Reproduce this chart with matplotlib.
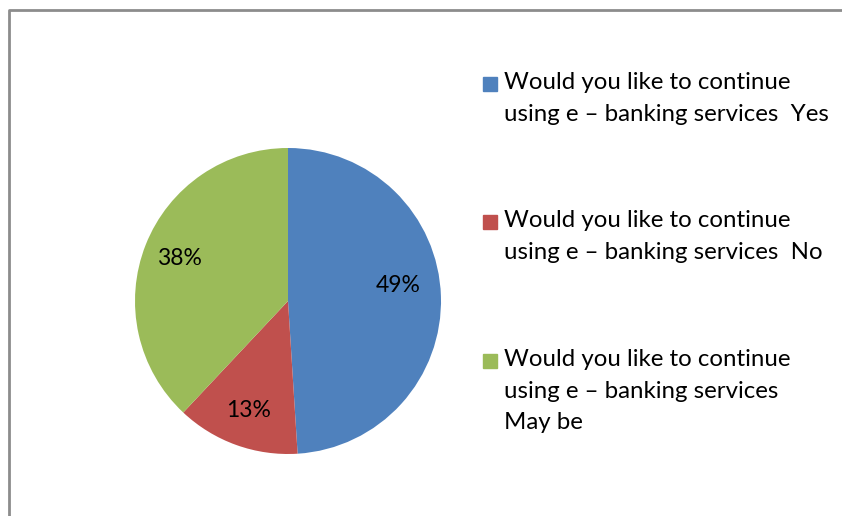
import matplotlib.pyplot as plt
from matplotlib.patches import Rectangle

# data
labels = ['Would you like to continue\nusing e \u2013 banking services  Yes',
          'Would you like to continue\nusing e \u2013 banking services  No',
          'Would you like to continue\nusing e \u2013 banking services\nMay be']
values = [49, 13, 38]
colors = ['#4F81BD', '#C0504D', '#9BBB59']

plt.rcParams['font.family'] = ['Lato', 'DejaVu Sans']

W, H = 842, 516
fig = plt.figure(figsize=(8.42, 5.16), dpi=100)
ax = fig.add_axes([0, 0, 1, 1])

# frame (only top and left are visible)
ax.plot([9, 9, W], [0, H - 10, H - 10], color='#8c8c8c', lw=2, solid_capstyle='butt')

wedges, texts, autotexts = ax.pie(values, colors=colors, startangle=90, counterclock=False,
                                  center=(288, H - 301), radius=153, autopct='%d%%',
                                  pctdistance=0.76, frame=True,
                                  textprops={'fontsize': 16.5, 'color': '#000000'})
ax.set_xlim(0, W)
ax.set_ylim(0, H)
ax.set_aspect('equal')
ax.axis('off')
autotexts[0].set_position((398, H - 285))

# legend
tops = [72, 210, 349]
for lab, col, y in zip(labels, colors, tops):
    ax.add_patch(Rectangle((483, H - 91 - (y - 72)), 14, 14, color=col))
    ax.text(504, H - y, lab, fontsize=17.3, va='top', ha='left', linespacing=1.62)

fig.savefig('out.png', dpi=100)
